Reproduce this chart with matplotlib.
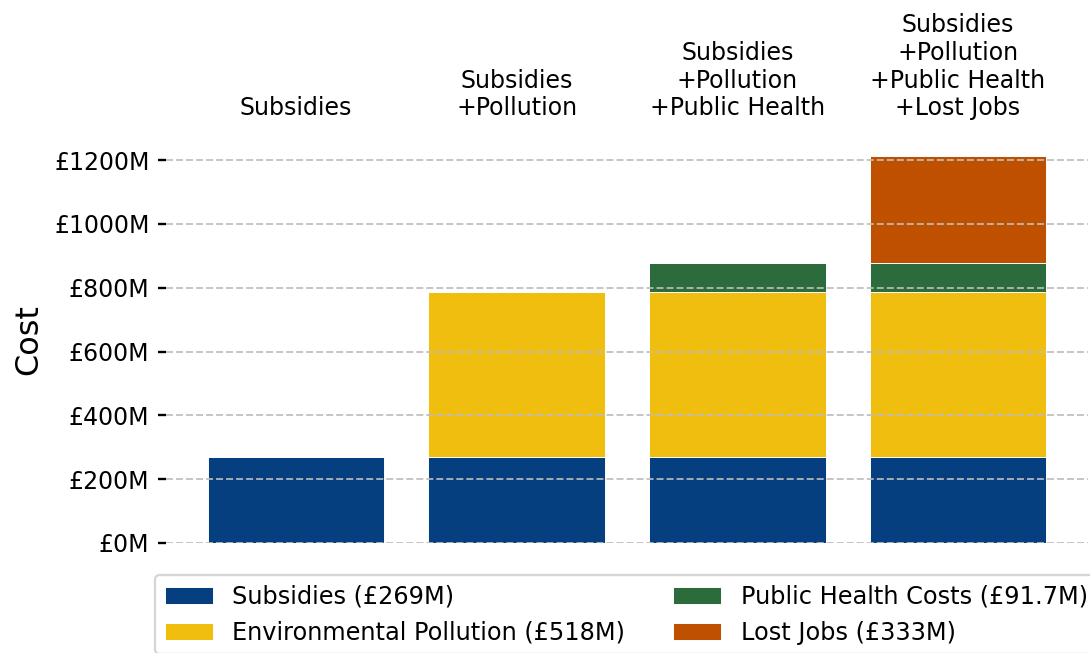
import matplotlib
matplotlib.use("Agg")
import matplotlib.pyplot as plt
import numpy as np

# Cost components (in £ millions)
categories = [
    "Subsidies",
    "Subsidies\n+Pollution",
    "Subsidies\n+Pollution\n+Public Health",
    "Subsidies\n+Pollution\n+Public Health\n+Lost Jobs",
]
component_names = ["Subsidies", "Environmental Pollution", "Public Health Costs", "Lost Jobs"]
component_values = [269, 518, 91.7, 333]
component_labels = ["Subsidies (£269M)", "Environmental Pollution (£518M)",
                    "Public Health Costs (£91.7M)", "Lost Jobs (£333M)"]
colors = ["#063f80", "#f0be0e", "#2b6b3c", "#bf5000"]

DPI = 170
fig = plt.figure(figsize=(1090 / DPI, 653 / DPI), dpi=DPI)
ax = fig.add_axes([166 / 1090, 110 / 653, 922 / 1090, 406 / 653])

x = np.arange(len(categories))
bottoms = np.zeros(len(categories))
handles = []
for i, (name, val, lab, col) in enumerate(zip(component_names, component_values,
                                              component_labels, colors)):
    # component i appears in bar i and every bar to its right
    heights = np.array([val if j >= i else 0 for j in range(len(categories))])
    h = ax.bar(x, heights, width=0.8, bottom=bottoms, color=col,
               edgecolor="white", linewidth=0.4, label=lab)
    handles.append(h)
    bottoms += heights

ax.set_xticks(x)
ax.set_xticklabels(categories, fontsize=10)
ax.xaxis.tick_top()
ax.tick_params(axis="x", which="both", top=False, bottom=False,
               labeltop=True, labelbottom=False)

ax.set_yticks(np.arange(0, 1201, 200))
ax.set_yticklabels([f"£{v}M" for v in range(0, 1201, 200)], fontsize=10)
ax.tick_params(axis="y", length=3.5, width=1)
ax.set_ylabel("Cost", fontsize=13.5)

for s in ax.spines.values():
    s.set_visible(False)

ax.set_axisbelow(False)
ax.yaxis.grid(True, linestyle="--", color="#bdbdbd", linewidth=0.8, alpha=0.9)
ax.xaxis.grid(False)

fig.legend(handles=handles, labels=component_labels, ncol=2, fontsize=10.2,
           loc="upper left", bbox_to_anchor=(155 / 1090, 1 - 575 / 653),
           bbox_transform=fig.transFigure, borderaxespad=0)

fig.savefig("out.png", dpi=DPI)
